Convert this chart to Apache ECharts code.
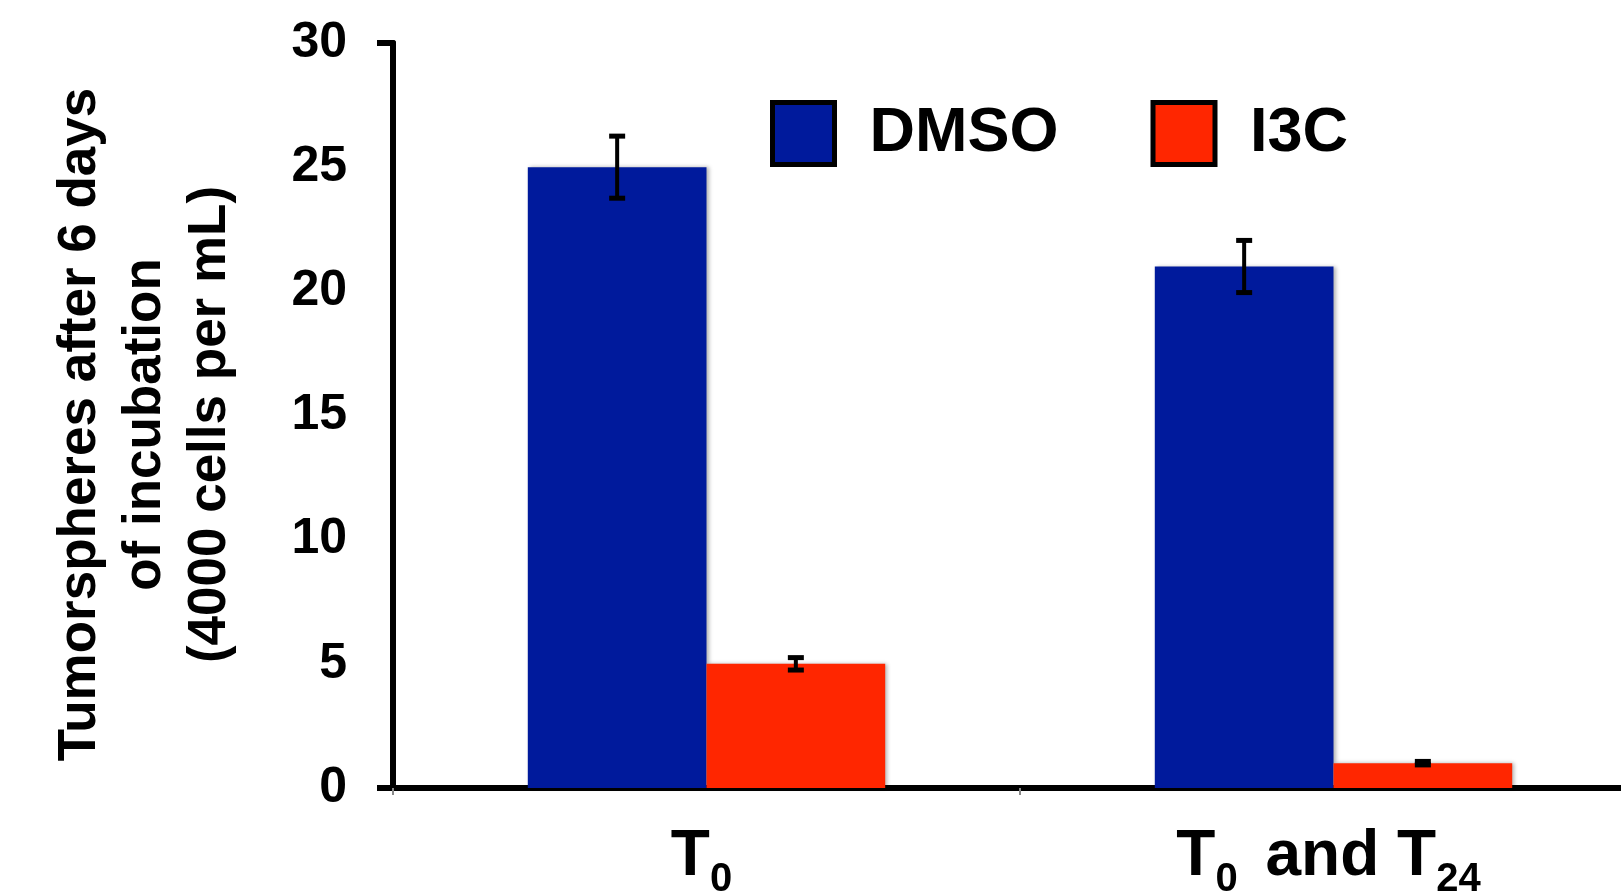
<!DOCTYPE html>
<html>
<head>
<meta charset="utf-8">
<script src="https://cdn.jsdelivr.net/npm/echarts@6/dist/echarts.min.js"></script>
<style>
html,body{margin:0;padding:0;background:#fff;}
#chart{width:1621px;height:892px;}
</style>
</head>
<body>
<div id="chart"></div>
<script>
const categories = ['T0', 'T0 and T24'];
const seriesNames = ['DMSO', 'I3C'];
const dmso = [25, 21];
const dmsoErr = [1.25, 1.05];
const i3c = [5, 1];
const i3cErr = [0.25, 0.07];
const yTickValues = [0, 5, 10, 15, 20, 25, 30];
const yTitle = 'Tumorspheres after 6 days\nof incubation\n(4000 cells per mL)';

const FONT = "'Liberation Sans', Arial, Helvetica, sans-serif";
const BLUE = '#001a9c';
const RED = '#ff2600';
const CAT_GAP = 0.43;
const barHalf = (1 - CAT_GAP) / 4; // offset of each bar centre in band units

function errData(vals, errs) {
  return vals.map((v, i) => [i, v - errs[i], v + errs[i]]);
}
function errSeries(name, vals, errs, sign) {
  return {
    type: 'custom',
    name: name + ' err',
    z: 5,
    encode: { x: 0, y: [1, 2] },
    data: errData(vals, errs),
    renderItem: function (params, api) {
      const band = api.size([1, 0])[0];
      const cx = api.coord([api.value(0), 0])[0] + sign * barHalf * band;
      const yLo = api.coord([api.value(0), api.value(1)])[1];
      const yHi = api.coord([api.value(0), api.value(2)])[1];
      const hw = 8;
      const st = { stroke: '#000', lineWidth: 5, lineCap: 'butt' };
      return {
        type: 'group',
        children: [
          { type: 'line', shape: { x1: cx, y1: yHi, x2: cx, y2: yLo }, style: { stroke: '#000', lineWidth: 4 } },
          { type: 'line', shape: { x1: cx - hw, y1: yHi, x2: cx + hw, y2: yHi }, style: st },
          { type: 'line', shape: { x1: cx - hw, y1: yLo, x2: cx + hw, y2: yLo }, style: st }
        ]
      };
    }
  };
}

function catLabel(v) {
  // turn T0 / T24 into T with subscript
  const parts = v.split(/(T\d+)/).filter(s => s.length);
  return parts.map(p => {
    const m = p.match(/^T(\d+)$/);
    if (m) return '{t|T}{s|' + m[1] + '}';
    return '{t|' + p + '}';
  }).join('');
}

const chart = echarts.init(document.getElementById('chart'));
const barStyle = c => ({
  color: c,
  shadowColor: 'rgba(0,0,0,0.3)',
  shadowBlur: 4,
  shadowOffsetX: 2
});

chart.setOption({
  animation: false,
  backgroundColor: '#fff',
  textStyle: { fontFamily: FONT },
  grid: { left: 393, top: 43, bottom: 104, right: -26, containLabel: false, outerBoundsMode: 'none' },
  legend: {
    data: seriesNames,
    left: 765,
    top: 95,
    itemWidth: 62,
    itemHeight: 62,
    itemGap: 92,
    icon: 'rect',
    itemStyle: { borderColor: '#000', borderWidth: 5, shadowBlur: 0, shadowOffsetX: 0 },
    textStyle: { fontFamily: FONT, fontWeight: 'bold', fontSize: 63, color: '#000', padding: [0, 0, 0, 30] }
  },
  xAxis: [
    {
      type: 'category',
      data: categories,
      position: 'bottom',
      axisLine: { lineStyle: { color: '#555', width: 4 } },
      axisTick: { show: true, length: 7, lineStyle: { color: '#888', width: 2 } },
      axisLabel: {
        margin: 36,
        formatter: catLabel,
        rich: {
          t: { fontFamily: FONT, fontWeight: 'bold', fontSize: 64, color: '#000', lineHeight: 66, verticalAlign: 'middle' },
          s: { fontFamily: FONT, fontWeight: 'bold', fontSize: 40, color: '#000', lineHeight: 40, verticalAlign: 'bottom', padding: [0, 10, -10, 0] }
        }
      }
    },
    {
      type: 'category',
      data: categories,
      position: 'top',
      axisLine: { lineStyle: { color: '#000', width: 6 } },
      axisTick: { show: false },
      axisLabel: { show: false }
    }
  ],
  yAxis: [
    {
      type: 'value',
      min: yTickValues[0],
      max: yTickValues[yTickValues.length - 1],
      interval: yTickValues[1] - yTickValues[0],
      axisLine: { show: true, lineStyle: { color: '#000', width: 6 } },
      axisTick: { show: false },
      splitLine: { show: false },
      axisLabel: { margin: 46, fontFamily: FONT, fontWeight: 'bold', fontSize: 50, color: '#000', padding: [10, 0, 0, 0] },
      name: yTitle,
      nameLocation: 'middle',
      nameRotate: 90,
      nameGap: 150,
      nameTextStyle: { fontFamily: FONT, fontWeight: 'bold', fontSize: 53, color: '#000', lineHeight: 65, align: 'center', padding: [0, 18, 0, 0] }
    },
    {
      type: 'value',
      position: 'left',
      min: yTickValues[0],
      max: yTickValues[yTickValues.length - 1],
      interval: yTickValues[yTickValues.length - 1] - yTickValues[0],
      axisLine: { show: true, lineStyle: { color: '#000', width: 6 } },
      axisTick: { show: true, length: 16, lineStyle: { color: '#000', width: 6 } },
      axisLabel: { show: false },
      splitLine: { show: false }
    }
  ],
  series: [
    { name: seriesNames[0], type: 'bar', data: dmso, barGap: '0%', barCategoryGap: (CAT_GAP * 100) + '%', itemStyle: barStyle(BLUE) },
    { name: seriesNames[1], type: 'bar', data: i3c, barGap: '0%', barCategoryGap: (CAT_GAP * 100) + '%', itemStyle: barStyle(RED) },
    errSeries(seriesNames[0], dmso, dmsoErr, -1),
    errSeries(seriesNames[1], i3c, i3cErr, 1)
  ]
});
</script>
</body>
</html>
